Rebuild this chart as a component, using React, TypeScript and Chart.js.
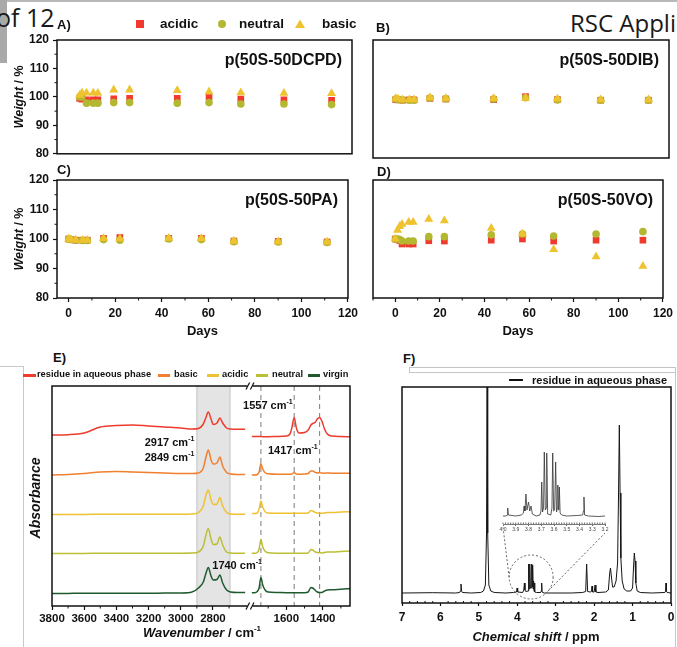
import React, { useEffect, useRef } from "react";
import { Chart, registerables } from "chart.js";

Chart.register(...registerables);

const FONT = "'Liberation Sans', Arial, Helvetica, sans-serif";
const INK = "#111111";
Chart.defaults.font.family = FONT;
Chart.defaults.color = INK;

// ---------------- A–D: weight retention vs. time ----------------
const DAYS = [0, 1, 3, 6, 8, 15, 22, 43, 57, 71, 90, 111];
const DAYS_VO = [0, 1, 2, 3, 6, 8, 15, 22, 43, 57, 71, 90, 111];

const DCPD_ACIDIC = [99.5, 99.2, 99.0, 99.0, 99.0, 99.3, 99.5, 99.5, 100.0, 99.2, 99.0, 98.8];
const DCPD_NEUTRAL = [100.0, 100.0, 97.8, 97.8, 97.8, 98.0, 98.0, 97.8, 98.0, 97.5, 97.5, 97.3];
const DCPD_BASIC = [100.6, 101.4, 101.4, 101.4, 101.3, 102.5, 102.5, 102.3, 101.8, 101.5, 101.3, 101.2];

const DIB_ACIDIC = [99.8, 99.7, 99.6, 99.7, 99.7, 100.2, 100.0, 99.8, 100.8, 99.8, 99.6, 99.6];
const DIB_NEUTRAL = [100.0, 99.8, 99.7, 99.6, 99.6, 100.3, 100.1, 100.0, 100.4, 99.7, 99.6, 99.6];
const DIB_BASIC = [100.2, 100.0, 99.8, 99.8, 99.8, 100.5, 100.2, 100.2, 100.3, 100.0, 99.8, 99.8];

const PA_ACIDIC = [100.0, 99.8, 99.6, 99.6, 99.6, 100.2, 100.5, 100.2, 100.2, 99.3, 99.2, 99.0];
const PA_NEUTRAL = [100.0, 99.8, 99.6, 99.5, 99.5, 99.8, 99.6, 100.0, 99.8, 99.1, 99.0, 98.8];
const PA_BASIC = [100.0, 99.8, 99.7, 99.6, 99.6, 100.2, 100.1, 100.3, 100.2, 99.3, 99.1, 99.0];

const VO_ACIDIC = [100.0, 99.8, 99.5, 98.3, 98.3, 98.3, 99.4, 99.3, 99.6, 100.0, 99.3, 99.6, 99.6];
const VO_NEUTRAL = [100.0, 100.0, 99.8, 99.3, 99.3, 99.3, 100.8, 100.8, 101.4, 101.7, 101.0, 101.7, 102.5];
const VO_BASIC = [100.0, 103.0, 104.3, 105.0, 105.7, 105.7, 106.7, 106.2, 103.7, 101.7, 96.5, 94.0, 90.8];

const CONDITIONS = ["acidic", "neutral", "basic"];
const CONDITION_COLORS = ["#f03a2d", "#b3b830", "#efc32f"];
const CONDITION_MARKERS = ["rect", "circle", "triangle"];
const CONDITION_RADII = [4.7, 3.8, 5.2];
const WEIGHT_TICKS = [80, 90, 100, 110, 120];
const DAY_TICKS = [0, 20, 40, 60, 80, 100, 120];
const PANEL_TITLES = ["p(50S-50DCPD)", "p(50S-50DIB)", "p(50S-50PA)", "p(50S-50VO)"];

// ---------------- E: FTIR ----------------
const IR_SERIES = ["residue in aqueous phase", "basic", "acidic", "neutral", "virgin"];
const IR_COLORS = ["#ee3b2c", "#f07f2e", "#eec233", "#bcbf36", "#1e5a2d"];

const IR_HIGH_X = [3800, 3700, 3600, 3500, 3400, 3300, 3200, 3100, 3000, 2930, 2890, 2860, 2845, 2829, 2812, 2798, 2775, 2757, 2740, 2715, 2690, 2650, 2600];
const RESIDUE_HIGH = [171, 171.3, 173, 179, 180.5, 181, 180, 179, 178, 177, 177.5, 182, 188, 194, 187, 181.5, 183, 188, 183, 178, 177, 176.7, 176.7];
const BASIC_HIGH = [131, 131.5, 132.5, 134, 134.5, 134, 133.5, 133, 132.5, 132.5, 133, 138, 148, 156, 146, 142, 143, 149, 140, 133.5, 132, 131.5, 131.5];
const ACIDIC_HIGH = [91.5, 91.6, 91.6, 91.7, 91.7, 91.7, 91.7, 91.8, 91.8, 92, 93.5, 100, 110, 116, 106, 101.5, 102, 108.5, 100, 93.5, 92, 91.8, 91.8];
const NEUTRAL_HIGH = [52.5, 52.6, 52.6, 52.7, 52.7, 52.7, 52.7, 52.7, 52.8, 53, 54, 60, 70, 77.5, 67, 61.5, 62, 69, 61, 54, 53, 52.8, 52.8];
const VIRGIN_HIGH = [12.5, 12.6, 12.7, 12.7, 12.8, 12.8, 12.8, 12.9, 13, 14, 18, 24, 32, 38.5, 30, 26, 26.5, 31, 23, 16, 14, 13.5, 13.5];

const IR_LOW_X = [1790, 1775, 1760, 1750, 1740, 1730, 1715, 1700, 1650, 1600, 1580, 1570, 1557, 1545, 1530, 1500, 1480, 1465, 1455, 1440, 1430, 1417, 1405, 1390, 1375, 1350, 1300, 1250];
const RESIDUE_LOW = [169.5, 169.5, 169.5, 169.5, 169.5, 169.3, 169.3, 169.3, 169.5, 170, 172, 178, 188.5, 178, 173, 173.5, 176, 181, 182.5, 184, 187, 188.5, 185, 177, 172, 170, 169.5, 169.3];
const BASIC_LOW = [131, 131, 131.5, 134, 142.5, 137, 133, 132.3, 131.8, 131.8, 131.8, 132, 133.5, 132, 131.8, 132, 132.5, 135, 135, 133.5, 133, 133.3, 133, 132.8, 133, 132.8, 132.7, 132.7];
const ACIDIC_LOW = [92.5, 92.5, 93, 97, 105, 99, 94, 93, 92.7, 92.7, 92.7, 92.7, 92.7, 92.7, 92.7, 92.8, 93, 95.5, 95, 93.5, 93, 92.8, 92.7, 93, 93.5, 93.5, 94, 94.3];
const NEUTRAL_LOW = [52.7, 52.7, 53.5, 57, 66.5, 59, 54.5, 53.3, 52.8, 52.7, 52.7, 52.7, 52.7, 52.7, 52.7, 52.7, 53, 56.5, 56, 54, 53.5, 53.2, 53, 53.5, 54, 54, 54.5, 55];
const VIRGIN_LOW = [13.3, 13.3, 14.5, 18, 28.5, 21, 15.5, 14, 13.5, 13.3, 13.3, 13.3, 13.3, 13.3, 13.3, 13.3, 14, 18.5, 18, 15.5, 14, 13.5, 13.5, 15, 16, 16.2, 16.8, 17.3];

const IR_HIGH = [RESIDUE_HIGH, BASIC_HIGH, ACIDIC_HIGH, NEUTRAL_HIGH, VIRGIN_HIGH];
const IR_LOW = [RESIDUE_LOW, BASIC_LOW, ACIDIC_LOW, NEUTRAL_LOW, VIRGIN_LOW];
const IR_HIGH_TICKS = [3800, 3600, 3400, 3200, 3000, 2800];
const IR_LOW_TICKS = [1600, 1400];
const IR_HIGH_MINOR = [3700, 3500, 3300, 3100, 2900, 2700];
const IR_LOW_MINOR = [1700, 1500, 1300];
const IR_BAND = [2900, 2694];
const IR_MARKS = [1740, 1557, 1417];
const IR_LABELS = [
  { wn: "1557", axis: "xl", at: 1557, y: 201, dx: -1.5 },
  { wn: "2917", axis: "xh", at: 2900, y: 164, dx: -2.5 },
  { wn: "2849", axis: "xh", at: 2900, y: 149, dx: -2.5 },
  { wn: "1417", axis: "xl", at: 1417, y: 156, dx: -2 },
  { wn: "1740", axis: "xl", at: 1740, y: 41, dx: 1 },
];

// ---------------- F: 1H NMR ----------------
const NMR_PPM = [7.0, 6.2, 5.6, 5.5, 5.48, 5.465, 5.45, 5.43, 5.2, 4.95, 4.88, 4.83, 4.8, 4.785, 4.77, 4.74, 4.69, 4.6, 4.3, 4.1, 4.02, 4.005, 3.99, 3.86, 3.83, 3.815, 3.8, 3.78, 3.72, 3.705, 3.69, 3.675, 3.66, 3.64, 3.625, 3.612, 3.6, 3.588, 3.575, 3.565, 3.552, 3.54, 3.5, 3.39, 3.375, 3.365, 3.355, 3.3, 2.6, 2.3, 2.22, 2.195, 2.17, 2.1, 2.07, 2.055, 2.04, 2.0, 1.975, 1.955, 1.9, 1.7, 1.63, 1.595, 1.575, 1.555, 1.52, 1.48, 1.43, 1.39, 1.365, 1.345, 1.325, 1.305, 1.27, 1.22, 1.15, 1.05, 1.0, 0.975, 0.955, 0.935, 0.915, 0.88, 0.8, 0.5, 0.16, 0.14, 0.13, 0.12, 0.1, 0.0];
const NMR_INT = [10, 10.3, 10, 10.5, 12, 19, 12, 10.5, 10, 10.5, 12, 18, 70, 260, 70, 18, 12, 10.5, 10, 10.5, 11, 15, 11, 10.5, 13, 20, 13, 11.5, 12, 39, 14, 39, 15, 15, 39, 16, 38, 14, 22, 12, 20, 11, 10.5, 10.5, 12, 20, 11, 10, 10, 10.5, 11.5, 39, 11.5, 11, 11.5, 17, 11, 11, 18, 11, 10.5, 11, 13, 30, 35, 28, 16, 16, 22, 40, 110, 178, 110, 45, 22, 14, 12, 12, 15, 36, 50, 42, 20, 12, 10.5, 10, 10.5, 12, 20, 12, 10.5, 10];
const NMR_TICKS = [0, 1, 2, 3, 4, 5, 6, 7];

const INSET_PPM = [4.0, 3.975, 3.968, 3.963, 3.958, 3.9, 3.855, 3.84, 3.835, 3.828, 3.82, 3.812, 3.8, 3.79, 3.78, 3.77, 3.74, 3.71, 3.702, 3.696, 3.69, 3.682, 3.676, 3.668, 3.662, 3.657, 3.65, 3.625, 3.616, 3.61, 3.603, 3.595, 3.587, 3.58, 3.574, 3.57, 3.565, 3.561, 3.558, 3.552, 3.54, 3.5, 3.42, 3.375, 3.369, 3.365, 3.36, 3.33, 3.25, 3.2];
const INSET_INT = [0, 0, 1, 8, 1, 0, 1, 3, 10, 5, 22, 6, 14, 5, 10, 2, 0, 1, 5, 34, 4, 8, 64, 6, 8, 63, 2, 1, 8, 63, 5, 6, 54, 4, 8, 31, 6, 10, 29, 3, 1, 0, 0.5, 1, 5, 19, 1, 0, -0.5, 0];
const INSET_TICKS = [3.2, 3.3, 3.4, 3.5, 3.6, 3.7, 3.8, 3.9, 4.0];
const ZOOM_CENTER = [3.64, 26];

// ---------------- helpers ----------------
type Seg = { t: string; it?: boolean; sup?: boolean };

function drawRich(ctx: any, segs: Seg[], x: number, y: number, size: number, align: string, rotate = false) {
  ctx.save();
  ctx.translate(x, y);
  if (rotate) ctx.rotate(-Math.PI / 2);
  const font = (s: Seg) => `${s.it ? "italic " : ""}bold ${s.sup ? Math.round(size * 0.62) : size}px ${FONT}`;
  const widths = segs.map((s) => {
    ctx.font = font(s);
    return ctx.measureText(s.t).width;
  });
  const total = widths.reduce((p, c) => p + c, 0);
  let cx = align === "left" ? 0 : align === "center" ? -total / 2 : -total;
  ctx.fillStyle = INK;
  ctx.textAlign = "left";
  ctx.textBaseline = "alphabetic";
  segs.forEach((s, i) => {
    ctx.font = font(s);
    ctx.fillText(s.t, cx, s.sup ? -size * 0.05 : size * 0.36);
    cx += widths[i];
  });
  ctx.restore();
}

function seg(ctx: any, x1: number, y1: number, x2: number, y2: number) {
  ctx.beginPath();
  ctx.moveTo(x1, y1);
  ctx.lineTo(x2, y2);
  ctx.stroke();
}

const boldFont = (size: number) => ({ family: FONT, size, weight: "bold" as const });
const fixedTicks = (values: number[]) => (scale: any) => {
  scale.ticks = values.map((value) => ({ value }));
};
const plainLabel = (v: any) => String(v);

function ChartCanvas({ left, top, width, height, build }: any) {
  const ref = useRef<HTMLCanvasElement | null>(null);
  useEffect(() => {
    if (!ref.current) return;
    const chart = new Chart(ref.current, build());
    return () => chart.destroy();
  }, []);
  return <canvas ref={ref} width={width} height={height} style={{ position: "absolute", left, top, width, height }} />;
}

// ---------------- A–D config ----------------
const PANELS = [
  { key: "A", title: PANEL_TITLES[0], days: DAYS, series: [DCPD_ACIDIC, DCPD_NEUTRAL, DCPD_BASIC], xMin: -10, left: 0, top: 12, w: 362, h: 153, pad: { left: 17, top: 28, right: 10, bottom: 7 }, yW: 40, xH: 0, showY: true, showX: false },
  { key: "B", title: PANEL_TITLES[1], days: DAYS, series: [DIB_ACIDIC, DIB_NEUTRAL, DIB_BASIC], xMin: -10, left: 362, top: 12, w: 315, h: 153, pad: { left: 11, top: 28, right: 8, bottom: 7 }, yW: 0, xH: 0, showY: false, showX: false },
  { key: "C", title: PANEL_TITLES[2], days: DAYS, series: [PA_ACIDIC, PA_NEUTRAL, PA_BASIC], xMin: -5, left: 0, top: 165, w: 362, h: 175, pad: { left: 17, top: 15, right: 10, bottom: 20 }, yW: 40, xH: 22, showY: true, showX: true },
  { key: "D", title: PANEL_TITLES[3], days: DAYS_VO, series: [VO_ACIDIC, VO_NEUTRAL, VO_BASIC], xMin: -10, left: 362, top: 165, w: 315, h: 175, pad: { left: 11, top: 15, right: 8, bottom: 20 }, yW: 0, xH: 22, showY: false, showX: true },
];

function scatterConfig(p: any): any {
  const decor = {
    id: "decor" + p.key,
    afterDraw(chart: any) {
      const { ctx, chartArea: a, scales } = chart;
      ctx.save();
      ctx.strokeStyle = INK;
      ctx.lineWidth = 1;
      if (p.showY) {
        for (let v = 85; v < 120; v += 10) {
          const y = scales.y.getPixelForValue(v);
          seg(ctx, a.left - 2.5, y, a.left, y);
        }
      }
      if (p.showX) {
        for (let v = -10; v <= 120; v += 20) {
          if (v < p.xMin) continue;
          const x = scales.x.getPixelForValue(v);
          seg(ctx, x, a.bottom, x, a.bottom + 2.5);
        }
      }
      ctx.lineWidth = 1.5;
      ctx.strokeRect(a.left, a.top, a.right - a.left, a.bottom - a.top);
      ctx.fillStyle = INK;
      ctx.font = `bold 16px ${FONT}`;
      ctx.textAlign = "right";
      ctx.textBaseline = "middle";
      ctx.fillText(p.title, a.right - 10, a.top + 21);
      if (p.showY) drawRich(ctx, [{ t: "Weight", it: true }, { t: " / %" }], 18, (a.top + a.bottom) / 2, 12.5, "center", true);
      if (p.showX) drawRich(ctx, [{ t: "Days" }], (a.left + a.right) / 2, 165, 13, "center");
      ctx.restore();
    },
  };
  return {
    type: "scatter",
    data: {
      datasets: CONDITIONS.map((name, i) => ({
        label: name,
        data: p.days.map((d: number, j: number) => ({ x: d, y: p.series[i][j] })),
        pointStyle: CONDITION_MARKERS[i],
        pointRadius: CONDITION_RADII[i],
        pointHoverRadius: CONDITION_RADII[i],
        backgroundColor: CONDITION_COLORS[i],
        borderColor: CONDITION_COLORS[i],
        pointBorderWidth: 0,
        order: 2 - i,
      })),
    },
    options: {
      animation: false,
      responsive: false,
      devicePixelRatio: 1,
      events: [],
      layout: { padding: p.pad, autoPadding: false },
      plugins: { legend: { display: false }, tooltip: { enabled: false } },
      scales: {
        x: {
          type: "linear",
          min: p.xMin,
          max: 120,
          afterBuildTicks: fixedTicks(DAY_TICKS),
          ticks: { display: p.showX, font: boldFont(12), color: INK, padding: 4, maxRotation: 0, minRotation: 0, autoSkip: false, callback: plainLabel },
          grid: { display: p.showX, drawOnChartArea: false, tickLength: 4, tickColor: INK, tickWidth: 1.2 },
          border: { display: false },
          afterFit: (s: any) => {
            s.height = p.xH;
          },
        },
        y: {
          type: "linear",
          min: 80,
          max: 120,
          afterBuildTicks: fixedTicks(WEIGHT_TICKS),
          ticks: { display: p.showY, font: boldFont(12), color: INK, padding: 4, callback: plainLabel },
          grid: { display: p.showY, drawOnChartArea: false, tickLength: 4, tickColor: INK, tickWidth: 1.2 },
          border: { display: false },
          afterFit: (s: any) => {
            s.width = p.yW;
          },
        },
      },
    },
    plugins: [decor],
  };
}

// ---------------- E config ----------------
function irConfig(): any {
  const decor = {
    id: "irDecor",
    beforeDatasetsDraw(chart: any) {
      const { ctx, chartArea: a, scales } = chart;
      ctx.save();
      const b1 = scales.xh.getPixelForValue(IR_BAND[0]);
      const b2 = scales.xh.getPixelForValue(IR_BAND[1]);
      ctx.fillStyle = "#e4e4e4";
      ctx.fillRect(b1, a.top, b2 - b1, a.bottom - a.top);
      ctx.strokeStyle = "#c2c2c2";
      ctx.lineWidth = 1;
      seg(ctx, b1, a.top, b1, a.bottom);
      seg(ctx, b2, a.top, b2, a.bottom);
      ctx.strokeStyle = "#7a7a7a";
      ctx.setLineDash([5, 4]);
      IR_MARKS.forEach((w) => {
        const x = scales.xl.getPixelForValue(w);
        seg(ctx, x, a.top, x, a.bottom);
      });
      ctx.restore();
    },
    afterDraw(chart: any) {
      const { ctx, chartArea: a, scales } = chart;
      ctx.save();
      ctx.strokeStyle = INK;
      ctx.lineWidth = 1;
      IR_HIGH_MINOR.forEach((w) => {
        const x = scales.xh.getPixelForValue(w);
        seg(ctx, x, a.bottom, x, a.bottom + 2.5);
      });
      IR_LOW_MINOR.forEach((w) => {
        const x = scales.xl.getPixelForValue(w);
        seg(ctx, x, a.bottom, x, a.bottom + 2.5);
      });
      ctx.lineWidth = 1.5;
      ctx.strokeRect(a.left, a.top, a.right - a.left, a.bottom - a.top);
      const bx = (scales.xh.right + scales.xl.left) / 2;
      [a.top, a.bottom].forEach((y) => {
        ctx.fillStyle = "#ffffff";
        ctx.fillRect(bx - 2.5, y - 2, 5, 4);
        ctx.strokeStyle = INK;
        ctx.lineWidth = 1.2;
        [-2.2, 2.2].forEach((o) => seg(ctx, bx + o - 1.8, y + 3.5, bx + o + 1.8, y - 3.5));
      });
      IR_LABELS.forEach((l) => {
        const x = scales[l.axis].getPixelForValue(l.at) + l.dx;
        const y = scales.y.getPixelForValue(l.y);
        drawRich(ctx, [{ t: l.wn + " cm" }, { t: "-1", sup: true }], x, y, 11, "right");
      });
      drawRich(ctx, [{ t: "Absorbance", it: true }], 25, 118, 14, "center", true);
      drawRich(ctx, [{ t: "Wavenumber", it: true }, { t: " / cm" }, { t: "-1", sup: true }], 192, 252, 13, "center");
      ctx.restore();
    },
  };
  const line = (i: number, axis: string, xs: number[], ys: number[]) => ({
    label: IR_SERIES[i],
    xAxisID: axis,
    yAxisID: "y",
    data: xs.map((x, j) => ({ x, y: ys[j] })),
    borderColor: IR_COLORS[i],
    backgroundColor: IR_COLORS[i],
    borderWidth: 1.5,
    pointRadius: 0,
    fill: false,
    cubicInterpolationMode: "monotone",
    tension: 0.4,
  });
  const xCommon = {
    type: "linear",
    position: "bottom",
    stack: "ir",
    reverse: true,
    ticks: { font: boldFont(11.5), color: INK, padding: 2, maxRotation: 0, minRotation: 0, autoSkip: false, callback: plainLabel },
    grid: { drawOnChartArea: false, tickLength: 4, tickColor: INK, tickWidth: 1.2 },
    border: { display: false },
    afterFit: (s: any) => {
      s.height = 20;
    },
  };
  return {
    type: "line",
    data: {
      datasets: [
        ...IR_SERIES.map((_, i) => line(i, "xh", IR_HIGH_X, IR_HIGH[i])),
        ...IR_SERIES.map((_, i) => line(i, "xl", IR_LOW_X, IR_LOW[i])),
      ],
    },
    options: {
      animation: false,
      responsive: false,
      devicePixelRatio: 1,
      events: [],
      layout: { padding: { left: 32, top: 6, right: 10, bottom: 21 }, autoPadding: false },
      plugins: { legend: { display: false }, tooltip: { enabled: false } },
      scales: {
        xh: { ...xCommon, stackWeight: 198, min: 2570, max: 3800, afterBuildTicks: fixedTicks(IR_HIGH_TICKS) },
        xl: { ...xCommon, stackWeight: 100, min: 1250, max: 1800, afterBuildTicks: fixedTicks(IR_LOW_TICKS) },
        y: {
          type: "linear",
          min: 0,
          max: 220,
          ticks: { display: false },
          grid: { display: false },
          border: { display: false },
          afterFit: (s: any) => {
            s.width = 10;
          },
        },
      },
    },
    plugins: [decor],
  };
}

// ---------------- F config ----------------
const F_LEFT = 362;
const F_TOP = 380;
const INSET_LINK = [
  [503, 527],
  [605, 533],
];

function nmrConfig(): any {
  const decor = {
    id: "nmrDecor",
    afterDraw(chart: any) {
      const { ctx, chartArea: a, scales } = chart;
      ctx.save();
      ctx.strokeStyle = INK;
      ctx.lineWidth = 1;
      for (let k = 1; k < 35; k++) {
        if (k % 5 === 0) continue;
        const x = scales.x.getPixelForValue(k * 0.2);
        seg(ctx, x, a.bottom, x, a.bottom - 2);
      }
      ctx.lineWidth = 1.5;
      ctx.strokeRect(a.left, a.top, a.right - a.left, a.bottom - a.top);
      const cx = scales.x.getPixelForValue(ZOOM_CENTER[0]);
      const cy = scales.y.getPixelForValue(ZOOM_CENTER[1]);
      const r = 22;
      ctx.strokeStyle = "#555";
      ctx.lineWidth = 0.9;
      ctx.setLineDash([2, 2]);
      ctx.beginPath();
      ctx.arc(cx, cy, r, 0, Math.PI * 2);
      ctx.stroke();
      seg(ctx, cx - r, cy, INSET_LINK[0][0] - F_LEFT, INSET_LINK[0][1] - F_TOP);
      seg(ctx, cx + r * Math.cos(0.7), cy + r * Math.sin(0.7), INSET_LINK[1][0] - F_LEFT, INSET_LINK[1][1] - F_TOP);
      ctx.setLineDash([]);
      drawRich(ctx, [{ t: "Chemical shift", it: true }, { t: " / ppm" }], 174, 256, 13, "center");
      ctx.restore();
    },
  };
  return {
    type: "line",
    data: {
      datasets: [
        {
          label: "residue in aqueous phase",
          data: NMR_PPM.map((x, j) => ({ x, y: NMR_INT[j] })),
          borderColor: "#151515",
          borderWidth: 1,
          pointRadius: 0,
          tension: 0,
          fill: false,
        },
      ],
    },
    options: {
      animation: false,
      responsive: false,
      devicePixelRatio: 1,
      events: [],
      layout: { padding: { left: 30, top: 7, right: 6, bottom: 24 }, autoPadding: false },
      plugins: { legend: { display: false }, tooltip: { enabled: false } },
      scales: {
        x: {
          type: "linear",
          min: 0,
          max: 7,
          reverse: true,
          afterBuildTicks: fixedTicks(NMR_TICKS),
          ticks: { font: boldFont(12), color: INK, padding: 4, maxRotation: 0, minRotation: 0, autoSkip: false, callback: plainLabel },
          grid: { drawOnChartArea: false, tickLength: 3, tickColor: INK, tickWidth: 1.2 },
          border: { display: false },
          afterFit: (s: any) => {
            s.height = 20;
          },
        },
        y: {
          type: "linear",
          min: 0,
          max: 216,
          ticks: { display: false },
          grid: { display: false },
          border: { display: false },
          afterFit: (s: any) => {
            s.width = 10;
          },
        },
      },
    },
    plugins: [decor],
  };
}

function insetConfig(): any {
  const decor = {
    id: "insetDecor",
    afterDraw(chart: any) {
      const { ctx, chartArea: a, scales } = chart;
      ctx.save();
      ctx.strokeStyle = "#444";
      ctx.lineWidth = 0.8;
      for (let k = 0; k <= 40; k++) {
        const x = scales.x.getPixelForValue(3.2 + k * 0.02);
        seg(ctx, x, a.bottom, x, a.bottom - 1.5);
      }
      ctx.restore();
    },
  };
  return {
    type: "line",
    data: {
      datasets: [
        {
          label: "zoom",
          data: INSET_PPM.map((x, j) => ({ x, y: INSET_INT[j] })),
          borderColor: "#333",
          borderWidth: 0.8,
          pointRadius: 0,
          tension: 0,
          fill: false,
        },
      ],
    },
    options: {
      animation: false,
      responsive: false,
      devicePixelRatio: 1,
      events: [],
      layout: { padding: { left: 8, top: 7, right: 10, bottom: 6 }, autoPadding: false },
      plugins: { legend: { display: false }, tooltip: { enabled: false } },
      scales: {
        x: {
          type: "linear",
          min: 3.2,
          max: 4.0,
          reverse: true,
          afterBuildTicks: fixedTicks(INSET_TICKS),
          ticks: { font: { family: FONT, size: 5 }, color: "#444", padding: 1, maxRotation: 0, minRotation: 0, autoSkip: false, callback: (v: any) => Number(v).toFixed(1) },
          grid: { drawOnChartArea: false, tickLength: 2, tickColor: "#444", tickWidth: 0.8 },
          border: { display: true, color: "#555", width: 0.8 },
          afterFit: (s: any) => {
            s.height = 10;
          },
        },
        y: {
          type: "linear",
          min: -8,
          max: 69,
          ticks: { display: false },
          grid: { display: false },
          border: { display: false },
          afterFit: (s: any) => {
            s.width = 0;
          },
        },
      },
    },
    plugins: [decor],
  };
}

// ---------------- HTML bits ----------------
const PANEL_LETTERS = [
  { t: "A)", x: 57, y: 18 },
  { t: "B)", x: 376, y: 20.5 },
  { t: "C)", x: 57, y: 162.5 },
  { t: "D)", x: 377, y: 164.5 },
  { t: "E)", x: 53, y: 351 },
  { t: "F)", x: 403, y: 351.5 },
];
const LEGEND_A = [
  { mx: 140, tx: 160 },
  { mx: 222, tx: 239 },
  { mx: 300, tx: 322 },
];
const LEGEND_E = [
  { lx: 23, lw: 13, tx: 37 },
  { lx: 158, lw: 12, tx: 174 },
  { lx: 207, lw: 12, tx: 222 },
  { lx: 256, lw: 12, tx: 272 },
  { lx: 308, lw: 12, tx: 323 },
];

function Marker({ i }: { i: number }) {
  const c = CONDITION_COLORS[i];
  const m = LEGEND_A[i];
  const style: any = { position: "absolute", left: m.mx - 5, top: 18.5 };
  return (
    <svg width={10} height={10} style={style}>
      {i === 0 && <rect x={1} y={1} width={8} height={8} fill={c} />}
      {i === 1 && <circle cx={5} cy={5} r={4} fill={c} />}
      {i === 2 && <polygon points="0,9 5,0.5 10,9" fill={c} />}
    </svg>
  );
}

const abs = (left: number, top: number, extra: any = {}) => ({ position: "absolute" as const, left, top, whiteSpace: "nowrap" as const, lineHeight: 1, ...extra });

export default function App() {
  return (
    <div style={{ position: "absolute", left: 0, top: 0, width: 677, height: 647, background: "#ffffff", overflow: "hidden", fontFamily: FONT, color: INK }}>
      <div style={abs(0, 0, { width: 677, height: 2, background: "#b9b9b9" })} />
      <div style={abs(0, 0, { width: 7, height: 63, background: "#a9a9a9" })} />
      <div style={abs(-4, 4.5, { fontFamily: "'Open Sans', sans-serif", fontSize: 25, color: "#1a1a1a" })}>of 12</div>
      <div style={abs(570, 10.5, { fontFamily: "'Open Sans', sans-serif", fontSize: 24, color: "#1a1a1a" })}>RSC Appli</div>

      <div style={abs(0, 366, { width: 23, height: 1, background: "#c8c8c8" })} />
      <div style={abs(23, 366, { width: 1, height: 281, background: "#c8c8c8" })} />
      <div style={abs(409, 367, { width: 265, height: 4, border: "1px solid #c4c4c4" })} />
      <div style={abs(675, 373, { width: 1, height: 274, background: "#c8c8c8" })} />

      {PANELS.map((p) => (
        <ChartCanvas key={p.key} left={p.left} top={p.top} width={p.w} height={p.h} build={() => scatterConfig(p)} />
      ))}
      <ChartCanvas left={10} top={380} width={350} height={267} build={irConfig} />
      <ChartCanvas left={F_LEFT} top={F_TOP} width={315} height={267} build={nmrConfig} />
      <ChartCanvas left={495} top={440} width={120} height={100} build={insetConfig} />

      {PANEL_LETTERS.map((l) => (
        <div key={l.t} style={abs(l.x, l.y, { fontSize: 13, fontWeight: "bold" })}>
          {l.t}
        </div>
      ))}

      {CONDITIONS.map((c, i) => (
        <React.Fragment key={c}>
          <Marker i={i} />
          <div style={abs(LEGEND_A[i].tx, 17, { fontSize: 13.5, fontWeight: "bold" })}>{c}</div>
        </React.Fragment>
      ))}

      {IR_SERIES.map((s, i) => (
        <React.Fragment key={s}>
          <div style={abs(LEGEND_E[i].lx, 373.5, { width: LEGEND_E[i].lw, height: 3, background: IR_COLORS[i] })} />
          <div style={abs(LEGEND_E[i].tx, 370.4, { fontSize: 9.3, fontWeight: "bold" })}>{s}</div>
        </React.Fragment>
      ))}

      <div style={abs(509, 378.8, { width: 14, height: 2.5, background: "#111" })} />
      <div style={abs(532, 374.7, { fontSize: 11, fontWeight: "bold" })}>residue in aqueous phase</div>
    </div>
  );
}
